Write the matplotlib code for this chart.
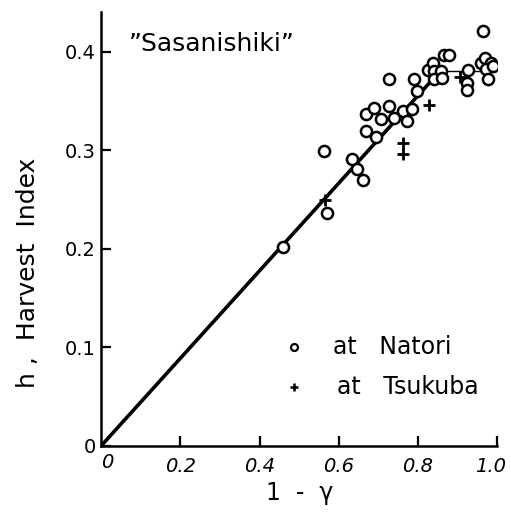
"""
Harvest index h vs 1 - gamma for "Sasanishiki" (Natori / Tsukuba).
Output: out.png
"""
import matplotlib
matplotlib.use("Agg")
import matplotlib.pyplot as plt
from matplotlib.transforms import ScaledTranslation

# Natori (open circles)
natori_x = [0.458, 0.563, 0.571, 0.633, 0.646, 0.660, 0.668, 0.693, 0.668,
            0.690, 0.706, 0.726, 0.727, 0.740, 0.761, 0.772, 0.786, 0.791,
            0.797, 0.824, 0.837, 0.841, 0.858, 0.841, 0.860, 0.865, 0.879,
            0.926, 0.923, 0.923, 0.963, 0.959, 0.968, 0.985, 0.972, 0.976,
            0.990]
natori_y = [0.202, 0.299, 0.236, 0.291, 0.281, 0.270, 0.320, 0.314, 0.337,
            0.343, 0.332, 0.345, 0.372, 0.333, 0.340, 0.330, 0.342, 0.372,
            0.360, 0.382, 0.389, 0.380, 0.381, 0.372, 0.373, 0.397, 0.397,
            0.382, 0.368, 0.361, 0.421, 0.389, 0.394, 0.389, 0.383, 0.372,
            0.386]

# Tsukuba (plus signs)
tsukuba_x = [0.565, 0.761, 0.761, 0.829, 0.905]
tsukuba_y = [0.250, 0.307, 0.296, 0.346, 0.374]

# fitted broken line
line_x = [0.0, 0.855]
line_y = [0.0, 0.380]
flat_x = [0.855, 1.0]
flat_y = [0.380, 0.380]

x_ticks = [0.2, 0.4, 0.6, 0.8, 1.0]
x_ticklabels = ["0.2", "0.4", "0.6", "0.8", "1.0"]
y_ticks = [0.0, 0.1, 0.2, 0.3, 0.4]
y_ticklabels = ["0", "0.1", "0.2", "0.3", "0.4"]

plt.rcParams["font.family"] = ["DejaVu Sans"]

fig = plt.figure(figsize=(5.11, 5.16), dpi=100)
ax = fig.add_axes([0.198, 0.136, 0.775, 0.84])

ax.plot(line_x, line_y, color="black", lw=2.6, solid_capstyle="butt", zorder=2)
ax.plot(flat_x, flat_y, color="black", lw=1.0, zorder=2)

ax.plot(natori_x, natori_y, "o", ms=8, mfc="white", mec="black", mew=1.8,
        linestyle="none", zorder=3)
ax.plot(tsukuba_x, tsukuba_y, "+", ms=9, mec="black", mew=2.0,
        linestyle="none", zorder=3)

ax.set_xlim(0, 1.0)
ax.set_ylim(0, 0.44)

for side in ("top", "right"):
    ax.spines[side].set_visible(False)
for side in ("left", "bottom"):
    ax.spines[side].set_linewidth(1.8)

ax.set_xticks(x_ticks)
ax.set_xticklabels(x_ticklabels, fontsize=14, style="italic")
ax.set_yticks(y_ticks)
ax.set_yticklabels(y_ticklabels, fontsize=14)
ax.tick_params(direction="in", length=7, width=1.6, pad=4)
ax.tick_params(axis="x", pad=8)

# keep "1.0" inside the figure
last = ax.get_xticklabels()[-1]
last.set_transform(last.get_transform()
                   + ScaledTranslation(-5 / 72, 0, fig.dpi_scale_trans))

# origin "0" on x axis
ax.text(0.0, -0.007, "0", fontsize=14, style="italic", ha="left", va="top")

ax.set_xlabel("1  -  \u03b3", fontsize=17, labelpad=4)
ax.set_ylabel("h ,  Harvest  Index", fontsize=18, labelpad=10)
ax.yaxis.set_label_coords(-0.155, 0.40)

ax.text(0.07, 0.408, "\u201dSasanishiki\u201d", fontsize=18, ha="left", va="center")

# legend drawn by hand
ax.plot([0.487], [0.1005], "o", ms=5, mfc="white", mec="black", mew=1.6)
ax.text(0.585, 0.1005, "at   Natori", fontsize=17, ha="left", va="center")
ax.plot([0.487], [0.060], "+", ms=6, mec="black", mew=1.8)
ax.text(0.595, 0.060, "at   Tsukuba", fontsize=17, ha="left", va="center")

fig.savefig("out.png", dpi=100)
